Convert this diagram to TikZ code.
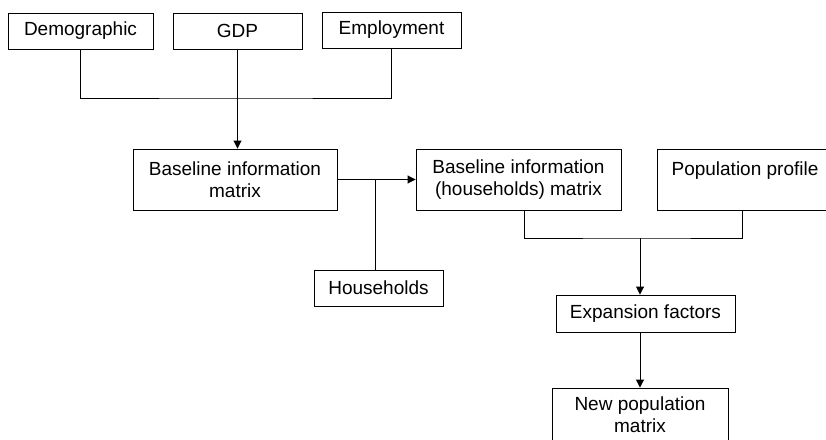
\documentclass[tikz,border=0pt]{standalone}
\usepackage{fontspec}
\setmainfont{Liberation Sans}
\usetikzlibrary{arrows.meta}

\tikzset{
  box/.style={draw=black, line width=0.9pt, inner sep=0pt, align=center,
    font=\fontsize{19}{22}\selectfont},
  link/.style={draw=black, line width=0.9pt},
  arr/.style={link, -{Triangle[length=8pt,width=8pt]}}
}

\begin{document}
\begin{tikzpicture}[x=1pt,y=1pt]
\useasboundingbox (0,0) rectangle (826,-439);
\clip (0,0) rectangle (826,-439);
% inputs on top
\node [box, minimum width=145, minimum height=36] (demo) at (80.5,-31) {Demographic};
\node [box, minimum width=129, minimum height=36] (gdp) at (237.5,-31) {GDP};
\node [box, minimum width=139, minimum height=36] (empl) at (391.5,-30) {Employment};
% matrices
\node [box, minimum width=204, minimum height=61] (base) at (235,-179.5) {Baseline information\\matrix};
\node [box, minimum width=129, minimum height=36] (hh) at (378.5,-288) {Households};
\node [box, minimum width=205, minimum height=61] (baseh) at (518.5,-179.5) {Baseline information\\(households) matrix};
\node [box, minimum width=176, minimum height=61] (pop) at (745,-179.5) {Population profile\\\mbox{}};
\node [box, minimum width=179, minimum height=37] (exp) at (645.5,-313.5) {Expansion factors};
\node [box, minimum width=176, minimum height=54] (newpop) at (640,-415) {New population\\matrix};
% junctions
\coordinate (topj) at (236,-98);
\coordinate (hhj) at (375,-180);
\coordinate (popj) at (640,-238);
% connectors
\draw [link] (demo.south) |- (topj) -| (empl.south);
\draw [arr] (gdp.south) -- (gdp.south |- base.north);
\draw [arr] (base.east) -- (baseh.west);
\draw [link] (hh.north -| hhj) -- (hhj);
\draw [link] (baseh.south -| 524,0) |- (popj) -| (pop.south -| 742,0);
\draw [arr] (popj) -- (popj |- exp.north);
\draw [arr] (exp.south -| popj) -- (newpop.north);
\end{tikzpicture}
\end{document}
